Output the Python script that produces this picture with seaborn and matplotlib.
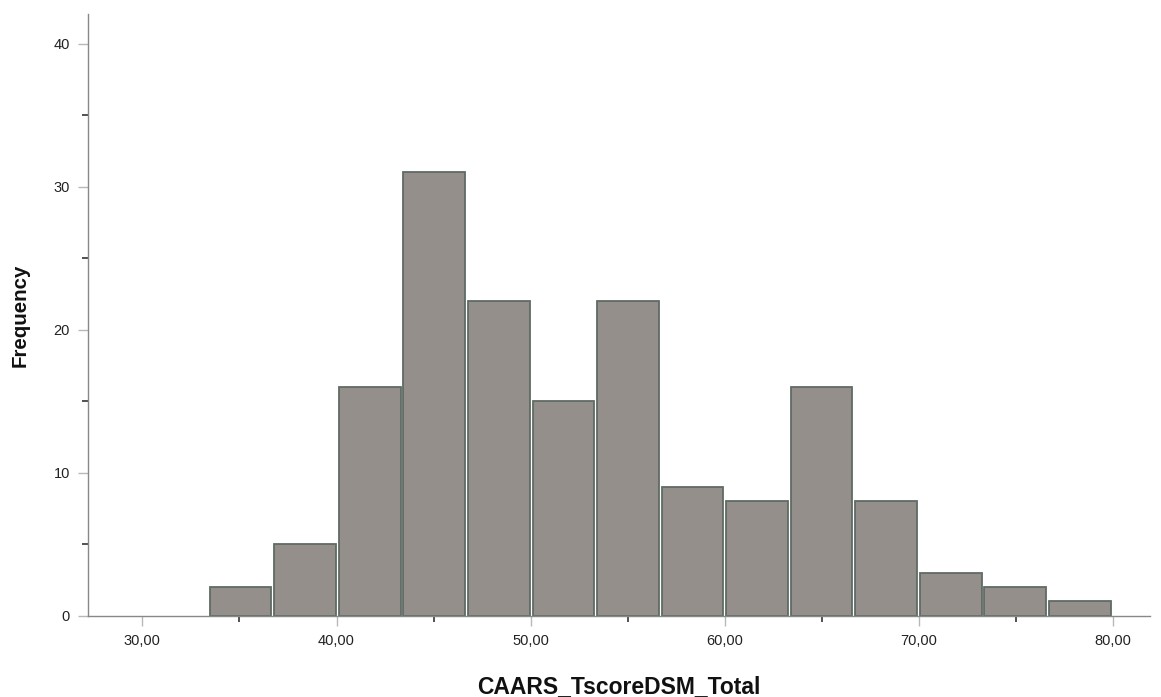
import numpy as np
import pandas as pd
import matplotlib
matplotlib.use("Agg")
import matplotlib.pyplot as plt
import seaborn as sns
from matplotlib.ticker import MultipleLocator, FuncFormatter

# Histogram bins of the CAARS DSM total T-score
bin_start = 33.40
bin_width = 3.325
counts = [2, 5, 16, 31, 22, 15, 22, 9, 8, 16, 8, 3, 2, 1]
x_ticks = [30, 40, 50, 60, 70, 80]
y_ticks = [0, 10, 20, 30, 40]

edges = bin_start + bin_width * np.arange(len(counts) + 1)
centers = (edges[:-1] + edges[1:]) / 2
df = pd.DataFrame({"score": centers, "n": counts})

sns.set_style("white")
plt.rcParams["font.family"] = ["Liberation Sans", "DejaVu Sans"]

fig = plt.figure(figsize=(11.61, 6.97), dpi=100)
ax = fig.add_axes([0.0758, 0.1166, 0.9147, 0.8629])

sns.histplot(data=df, x="score", weights="n", bins=edges.tolist(), ax=ax,
             color="#958f8c", alpha=1, edgecolor="#5f6b66", linewidth=1.3,
             shrink=0.955)

ax.set_xlim(27.2, 81.9)
ax.set_ylim(0, 42.05)

ax.set_xticks(x_ticks)
ax.set_yticks(y_ticks)
ax.xaxis.set_major_formatter(FuncFormatter(lambda v, p: f"{v:.2f}".replace(".", ",")))
ax.yaxis.set_major_formatter(FuncFormatter(lambda v, p: f"{int(v)}"))
ax.xaxis.set_minor_locator(MultipleLocator(5))
ax.yaxis.set_minor_locator(MultipleLocator(5))
ax.tick_params(axis="both", which="major", length=7, width=1, color="#b8b8b8",
               labelsize=10.5, labelcolor="#222222", pad=6, direction="out")
ax.tick_params(axis="both", which="minor", length=4, width=1.2, color="#333333",
               direction="out")
ax.tick_params(axis="x", which="both", bottom=True)
ax.tick_params(axis="y", which="both", left=True)

for side in ["top", "right"]:
    ax.spines[side].set_visible(False)
for side in ["left", "bottom"]:
    ax.spines[side].set_color("#888888")
    ax.spines[side].set_linewidth(1.0)

ax.set_xlabel("CAARS_TscoreDSM_Total", fontsize=16.5, fontweight="bold",
              color="#111111")
ax.set_ylabel("Frequency", fontsize=14.8, fontweight="bold", color="#111111")
ax.xaxis.set_label_coords(0.5, -0.098)
ax.yaxis.set_label_coords(-0.0546, 0.5)

fig.savefig("out.png", dpi=100)
